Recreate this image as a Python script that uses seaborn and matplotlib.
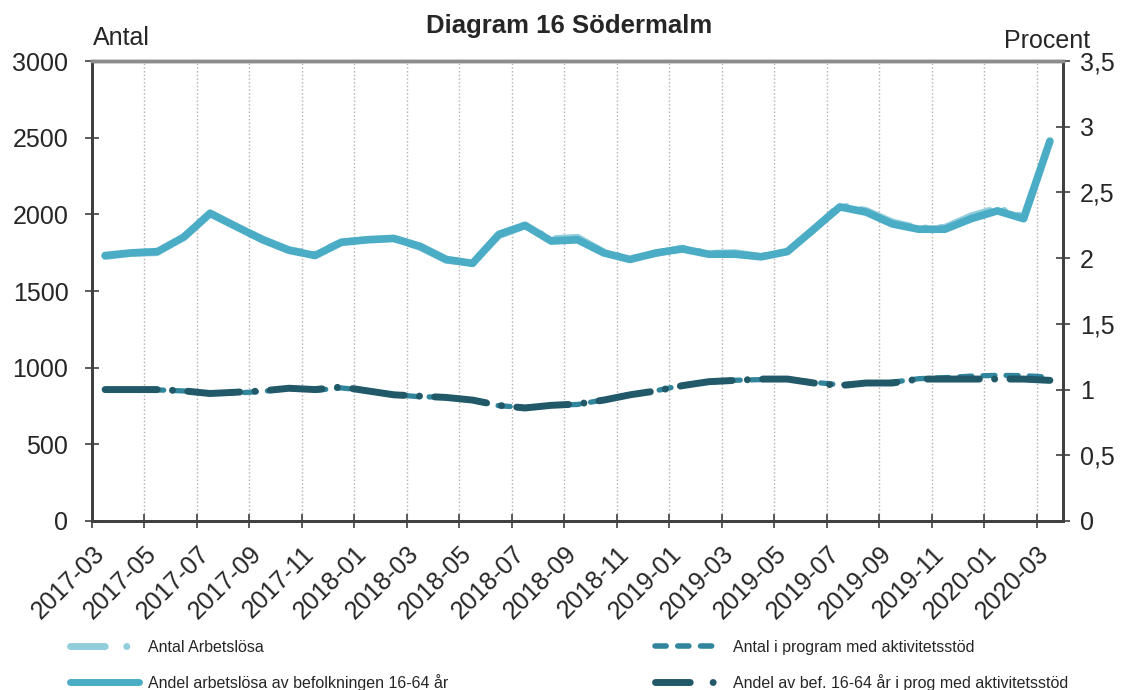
import numpy as np
import pandas as pd
import seaborn as sns
import matplotlib.pyplot as plt
from matplotlib.lines import Line2D

# data
months = ['2017-03', '2017-04', '2017-05', '2017-06', '2017-07', '2017-08', '2017-09',
          '2017-10', '2017-11', '2017-12', '2018-01', '2018-02', '2018-03', '2018-04',
          '2018-05', '2018-06', '2018-07', '2018-08', '2018-09', '2018-10', '2018-11',
          '2018-12', '2019-01', '2019-02', '2019-03', '2019-04', '2019-05', '2019-06',
          '2019-07', '2019-08', '2019-09', '2019-10', '2019-11', '2019-12', '2020-01',
          '2020-02', '2020-03']

antal_arbetslosa = [1725, 1745, 1750, 1855, 2010, 1920, 1840, 1770, 1740, 1820, 1835, 1840,
                    1785, 1700, 1685, 1860, 1925, 1840, 1850, 1755, 1710, 1745, 1780, 1745,
                    1750, 1725, 1760, 1900, 2060, 2025, 1950, 1910, 1915, 1990, 2040, 1985,
                    2470]

antal_program = [855, 855, 855, 848, 830, 835, 845, 865, 852, 868, 850, 825,
                 810, 808, 785, 752, 740, 755, 760, 790, 825, 850, 885, 905,
                 918, 922, 925, 905, 888, 900, 905, 928, 935, 945, 950, 948,
                 938]

andel_arbetslosa = [2.02, 2.04, 2.05, 2.16, 2.34, 2.24, 2.14, 2.06, 2.02, 2.12, 2.14, 2.15,
                    2.09, 1.99, 1.96, 2.18, 2.25, 2.13, 2.14, 2.04, 1.99, 2.04, 2.07, 2.03,
                    2.03, 2.01, 2.05, 2.22, 2.39, 2.35, 2.26, 2.22, 2.22, 2.30, 2.36, 2.30,
                    2.89]

andel_program = [1.00, 1.00, 1.00, 0.99, 0.97, 0.98, 0.99, 1.01, 1.00, 1.02, 0.99, 0.96,
                 0.95, 0.94, 0.92, 0.88, 0.86, 0.88, 0.89, 0.92, 0.96, 0.99, 1.03, 1.06,
                 1.07, 1.08, 1.08, 1.05, 1.03, 1.05, 1.05, 1.08, 1.08, 1.08, 1.08, 1.08,
                 1.07]

left_ticks = [0, 500, 1000, 1500, 2000, 2500, 3000]
right_ticks = [0, 0.5, 1, 1.5, 2, 2.5, 3, 3.5]

df = pd.DataFrame({'pos': np.arange(len(months)),
                   'month': months,
                   'antal_arb': antal_arbetslosa,
                   'antal_prog': antal_program,
                   'andel_arb': andel_arbetslosa,
                   'andel_prog': andel_program})

c_light, c_teal, c_main, c_dark = '#92cddc', '#31859c', '#4bacc6', '#215968'
lab_antal_arb = 'Antal Arbetslösa'
lab_antal_prog = 'Antal i program med aktivitetsstöd'
lab_andel_arb = 'Andel arbetslösa av befolkningen 16-64 år'
lab_andel_prog = 'Andel av bef. 16-64 år i prog med aktivitetsstöd'

sns.set_theme(style='white')
plt.rcParams['font.family'] = ['Liberation Sans', 'DejaVu Sans']

fig = plt.figure(figsize=(11.31, 6.9), dpi=100)
ax = fig.add_axes([92 / 1131, 1 - 521 / 690, (1063 - 92) / 1131, (521 - 61) / 690])
ax2 = ax.twinx()

# left axis (Antal)
sns.lineplot(data=df, x='pos', y='antal_arb', ax=ax, color=c_light, linewidth=5,
             legend=False)
ax.lines[-1].set_dashes([7.5, 2.2, 0.01, 2.2])
ax.lines[-1].set_dash_capstyle('round')
sns.lineplot(data=df, x='pos', y='antal_prog', ax=ax, color=c_teal, linewidth=3.8,
             legend=False)
ax.lines[-1].set_dashes([2.3, 2.1])
ax.lines[-1].set_dash_capstyle('round')

# right axis (Procent)
sns.lineplot(data=df, x='pos', y='andel_arb', ax=ax2, color=c_main, linewidth=5.5,
             legend=False)
ax2.lines[-1].set_solid_capstyle('round')
ax2.lines[-1].set_solid_joinstyle('round')
sns.lineplot(data=df, x='pos', y='andel_prog', ax=ax2, color=c_dark, linewidth=5,
             legend=False)
ax2.lines[-1].set_dashes([7.5, 2.2, 0.01, 2.2])
ax2.lines[-1].set_dash_capstyle('round')

ax.set_ylim(0, 3000)
ax2.set_ylim(0, 3.5)
ax.set_xlim(-0.5, len(months) - 0.5)
ax.set_yticks(left_ticks)
ax.set_yticklabels([str(t) for t in left_ticks])
ax2.set_yticks(right_ticks)
ax2.set_yticklabels([f'{t:g}'.replace('.', ',') for t in right_ticks])

xt = np.arange(0, len(months), 2) - 0.5
ax.set_xticks(xt)
ax.set_xticklabels(months[::2], rotation=45, ha='right', va='top',
                   rotation_mode='anchor')

ax.set_xlabel('')
ax.set_ylabel('')
ax2.set_ylabel('')

ax.grid(axis='x', color='#b0b0b0', linestyle=':', linewidth=1)
ax.grid(axis='y', visible=False)
ax2.grid(False)

ax.tick_params(axis='y', direction='inout', length=10, width=1.2, color='#404040',
               labelsize=18, pad=12, left=True)
ax.tick_params(axis='x', direction='inout', length=10, width=1.2, color='#404040',
               labelsize=18, pad=10, bottom=True)
ax2.tick_params(axis='y', direction='inout', length=10, width=1.2, color='#404040',
                labelsize=18, pad=7, right=True)

for a in (ax, ax2):
    for side in ('left', 'right', 'bottom'):
        a.spines[side].set_color('#404040')
        a.spines[side].set_linewidth(2)
    a.spines['top'].set_color('#8c8c8c')
    a.spines['top'].set_linewidth(2.5)

fig.text(93 / 1131, 1 - 45 / 690, 'Antal', fontsize=18, ha='left', va='baseline')
fig.text(1090 / 1131, 1 - 48 / 690, 'Procent', fontsize=18, ha='right', va='baseline')
fig.text(569 / 1131, 1 - 33 / 690, 'Diagram 16 Södermalm', fontsize=18.5, fontweight='bold',
         ha='center', va='baseline')

# legend proxies with shorter dash patterns, like the reference legend
handles = [
    Line2D([], [], color=c_light, lw=5, dashes=[5, 3.1, 0.01, 3.1], dash_capstyle='round'),
    Line2D([], [], color=c_main, lw=5, solid_capstyle='round'),
    Line2D([], [], color=c_teal, lw=4, dashes=[2.0, 2.1], dash_capstyle='round'),
    Line2D([], [], color=c_dark, lw=5, dashes=[5, 3.3, 0.01, 3.3], dash_capstyle='round'),
]
labels = [lab_antal_arb, lab_andel_arb, lab_antal_prog, lab_andel_prog]
fig.legend(handles, labels,
           ncol=2, loc='upper left', bbox_to_anchor=(70 / 1131, 1 - 640 / 690),
           frameon=False, fontsize=11.5, handlelength=4.3, handletextpad=0.6,
           columnspacing=12.9, labelspacing=1.18, borderaxespad=0, borderpad=0)

fig.savefig('out.png', dpi=100)
